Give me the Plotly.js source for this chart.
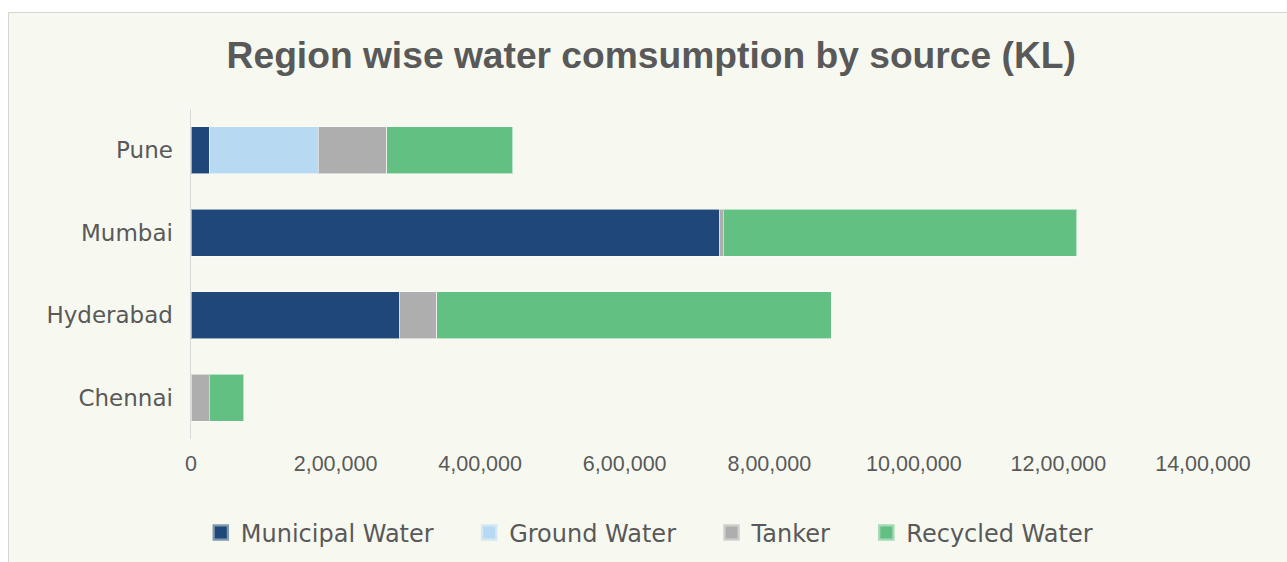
<!DOCTYPE html>
<html>
<head>
<meta charset="utf-8">
<script src="https://cdn.plot.ly/plotly-3.0.1.min.js"></script>
<style>
  html, body { margin: 0; padding: 0; background: #ffffff; overflow: hidden; }
  #frame { position: absolute; left: 8px; top: 12px; width: 2000px; height: 1000px;
           background: #F7F9F1; border-top: 1.5px solid #d4d4d4; border-left: 1.5px solid #d4d4d4; }
  #chart { position: absolute; left: 0; top: 0; width: 1287px; height: 562px; }
  #chart .legend .traces:nth-of-type(1) .legendpoints path { stroke: #1F4878 !important; stroke-width: 4.5px !important; }
  #chart .legend .traces:nth-of-type(2) .legendpoints path { stroke: #B7DAF2 !important; stroke-width: 4.5px !important; }
  #chart .legend .traces:nth-of-type(3) .legendpoints path { stroke: #AFAEAF !important; stroke-width: 4.5px !important; }
  #chart .legend .traces:nth-of-type(4) .legendpoints path { stroke: #62C083 !important; stroke-width: 4.5px !important; }
</style>
</head>
<body>
<div id="frame"></div>
<div id="chart"></div>
<script>
// Data
const regions = ['Pune', 'Mumbai', 'Hyderabad', 'Chennai'];
const municipalWater = [25000, 731000, 288000, 0];
const groundWater    = [151000, 0, 0, 0];
const tanker         = [95000, 5000, 52000, 25000];
const recycledWater  = [174000, 489000, 546000, 48000];
const seriesNames = ['Municipal Water', 'Ground Water', 'Tanker', 'Recycled Water'];
const tickValues = [0, 200000, 400000, 600000, 800000, 1000000, 1200000, 1400000];
const tickLabels = ['0', '2,00,000', '4,00,000', '6,00,000', '8,00,000', '10,00,000', '12,00,000', '14,00,000'];

const colors = ['#1F4878', '#B7DAF2', '#AFAEAF', '#62C083'];
const allSeries = [municipalWater, groundWater, tanker, recycledWater];
const pad = '\u00a0\u00a0\u00a0\u00a0';

const traces = allSeries.map((vals, i) => ({
  type: 'bar',
  orientation: 'h',
  name: seriesNames[i] + (i < 3 ? pad : ''),
  y: regions,
  x: vals,
  marker: { color: colors[i], line: { color: 'rgba(255,255,255,0.55)', width: 1 } },
  hoverinfo: 'x+name'
}));

const layout = {
  width: 1287, height: 562,
  paper_bgcolor: 'rgba(0,0,0,0)',
  plot_bgcolor: 'rgba(0,0,0,0)',
  barmode: 'stack',
  bargap: 0.436,
  margin: { l: 191, r: 84, t: 109, b: 123 },
  title: {
    text: 'Region wise water comsumption by source (KL)',
    font: { family: 'Liberation Sans, Arial, sans-serif', size: 37.2, color: '#595959', weight: 'bold' },
    xref: 'container', yref: 'container',
    x: 0.506, xanchor: 'center',
    y: 0.902, yanchor: 'middle'
  },
  xaxis: {
    range: [0, 1400000],
    tickmode: 'array', tickvals: tickValues, ticktext: tickLabels,
    showgrid: false, zeroline: false, showline: false, ticks: '',
    ticklabelstandoff: 9,
    tickfont: { family: 'Liberation Sans, Arial, sans-serif', size: 21.5, color: '#595959' }
  },
  yaxis: {
    autorange: 'reversed',
    showgrid: false, zeroline: false,
    showline: true, linecolor: '#D9D9D9', linewidth: 1.5,
    ticks: '',
    ticklabelstandoff: 12,
    tickfont: { family: 'DejaVu Sans, sans-serif', size: 23, color: '#595959' }
  },
  showlegend: true,
  legend: {
    orientation: 'h',
    xref: 'container', yref: 'container',
    x: 0.5045, xanchor: 'center',
    y: 0.052, yanchor: 'middle',
    bgcolor: 'rgba(0,0,0,0)',
    traceorder: 'normal',
    font: { family: 'DejaVu Sans, sans-serif', size: 24, color: '#595959' }
  }
};

Plotly.newPlot('chart', traces, layout, { displayModeBar: false, staticPlot: true });
</script>
</body>
</html>
